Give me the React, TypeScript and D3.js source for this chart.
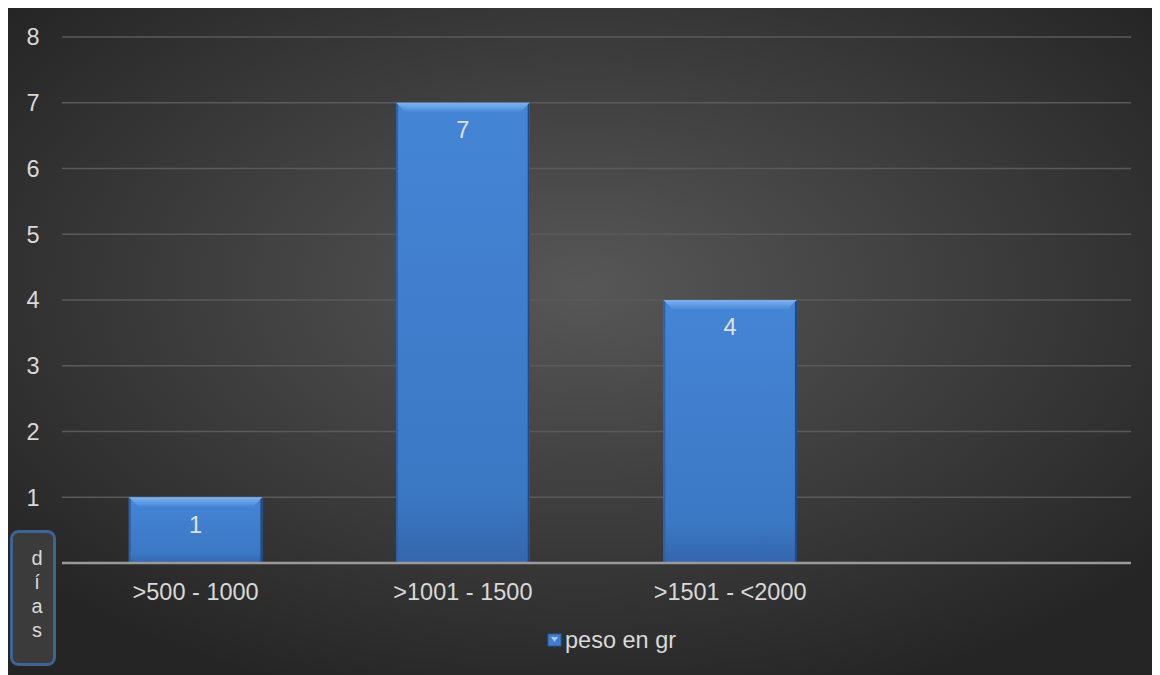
import React from "react";
import * as d3 from "d3";

const categories = [">500 - 1000", ">1001 - 1500", ">1501 - <2000", ""];
const values = [1, 7, 4, null];
const yTicks = [1, 2, 3, 4, 5, 6, 7, 8];
const seriesName = "peso en gr";
const axisTitle = ["d", "í", "a", "s"];

export default function App() {
  const W = 1152, H = 667;
  const keys = categories.map((c, i) => c + "#" + i);
  const x = d3.scaleBand<string>().domain(keys).range([54, 1123]).paddingInner(0.5).paddingOuter(0.25);
  const y = d3.scaleLinear().domain([0, 8]).range([555, 29]);
  const font = "Arial, 'Liberation Sans', sans-serif";
  const fs = 23.5;
  return (
    <svg width={W} height={H} style={{ display: "block" }}>
      <defs>
        <radialGradient id="bg" cx="0.5" cy="0.42" r="0.65">
          <stop offset="0" stopColor="#575757" />
          <stop offset="1" stopColor="#252525" />
        </radialGradient>
        <linearGradient id="barg" x1="0" y1="0" x2="0" y2="1">
          <stop offset="0" stopColor="#4585d6" />
          <stop offset="0.85" stopColor="#3b78c4" />
          <stop offset="1" stopColor="#3466ab" />
        </linearGradient>
        <linearGradient id="bevel" x1="0" y1="0" x2="0" y2="1">
          <stop offset="0" stopColor="#7fb2f0" />
          <stop offset="1" stopColor="#4a8ad8" />
        </linearGradient>
      </defs>
      <rect width={W} height={H} fill="url(#bg)" />
      {yTicks.map(t => (
        <line key={t} x1={54} x2={1123} y1={y(t)} y2={y(t)} stroke="#5a5a5a" strokeWidth={1.5} />
      ))}
      {yTicks.map(t => (
        <text key={"l" + t} x={25} y={y(t)} dy="0.36em" textAnchor="middle" fill="#d9d9d9" fontSize={fs} fontFamily={font}>{t}</text>
      ))}
      {values.map((v, i) => {
        if (v == null) return null;
        const x0 = x(keys[i])!, bw = x.bandwidth();
        const y0 = y(v), y1 = y(0);
        const b = 9;
        return (
          <g key={i}>
            <rect x={x0} y={y0} width={bw} height={y1 - y0} fill="url(#barg)" />
            <polygon points={`${x0},${y0} ${x0 + bw},${y0} ${x0 + bw - b},${y0 + b} ${x0 + b},${y0 + b}`} fill="url(#bevel)" />
            <polygon points={`${x0 + bw},${y0} ${x0 + bw},${y1} ${x0 + bw - 2},${y1} ${x0 + bw - 2},${y0 + 2}`} fill="#1f4a80" />
            <polygon points={`${x0},${y0} ${x0 + 2},${y0 + 2} ${x0 + 2},${y1} ${x0},${y1}`} fill="#2e62a6" />
            <text x={x0 + bw / 2} y={y0 + 27} dy="0.36em" textAnchor="middle" fill="#e0e0e0" fontSize={fs} fontFamily={font}>{v}</text>
          </g>
        );
      })}
      <line x1={54} x2={1123} y1={y(0)} y2={y(0)} stroke="#9a9a9a" strokeWidth={2.5} />
      {categories.map((c, i) => c ? (
        <text key={"c" + i} x={x(keys[i])! + x.bandwidth() / 2} y={584} dy="0.36em" textAnchor="middle" fill="#d9d9d9" fontSize={fs} fontFamily={font}>{c}</text>
      ) : null)}
      <rect x={3.5} y={523.5} width={43} height={133} rx={7} fill="#3b3b3b" stroke="#3c6496" strokeWidth={3} />
      {axisTitle.map((ch, i) => (
        <text key={"t" + i} x={29} y={550 + i * 24} dy="0.36em" textAnchor="middle" fill="#d9d9d9" fontSize={20} fontFamily={font}>{ch}</text>
      ))}
      <rect x={540} y={626} width={13} height={12} fill="#3f7fd0" stroke="#2a5a9a" strokeWidth={1} />
      <polygon points="543,629 550,629 546.5,634" fill="#a8c8f0" />
      <text x={557} y={632} dy="0.36em" fill="#d9d9d9" fontSize={fs} fontFamily={font}>{seriesName}</text>
    </svg>
  );
}
